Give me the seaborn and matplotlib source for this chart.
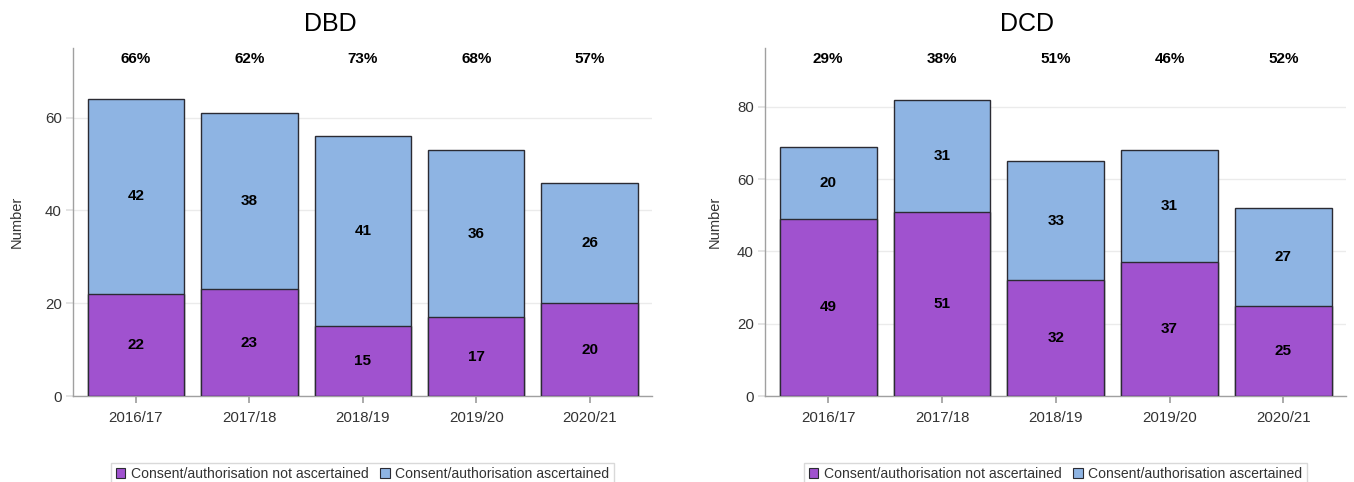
import matplotlib
matplotlib.use("Agg")
import matplotlib.pyplot as plt
from matplotlib.patches import Patch
import numpy as np
import pandas as pd
import seaborn as sns

# Financial years shown on both panels
years = ["2016/17", "2017/18", "2018/19", "2019/20", "2020/21"]

# DBD donors
dbd_not_ascertained = [22, 23, 15, 17, 20]
dbd_ascertained = [42, 38, 41, 36, 26]
dbd_pct = ["66%", "62%", "73%", "68%", "57%"]

# DCD donors
dcd_not_ascertained = [49, 51, 32, 37, 25]
dcd_ascertained = [20, 31, 33, 31, 27]
dcd_pct = ["29%", "38%", "51%", "46%", "52%"]

labels = ["Consent/authorisation not ascertained", "Consent/authorisation ascertained"]
PURPLE = "#A052CF"
BLUE = "#8EB4E3"
EDGE = "#2B2B33"
GRID = "#EBEBEB"
AXIS = "#A0A0A0"
TEXT = "#333333"

sns.set_theme(style="white")
plt.rcParams["font.family"] = ["Liberation Sans", "DejaVu Sans"]

fig = plt.figure(figsize=(13.54, 4.82), dpi=100)
W, H = 1354, 482
ax_l = fig.add_axes([73 / W, 1 - 396 / H, (652 - 73) / W, (396 - 48) / H])
ax_r = fig.add_axes([765 / W, 1 - 396 / H, (1346 - 765) / W, (396 - 48) / H])


def panel(ax, title, title_x, low, high, pct, ymax, yticks, ylabelpad):
    df = pd.DataFrame({
        "year": years,
        "low": low,
        "high": high,
    })
    df["total"] = df["low"] + df["high"]
    ax.set_axisbelow(True)
    for t in yticks:
        ax.axhline(t, color=GRID, lw=1, zorder=0)
    sns.barplot(data=df, x="year", y="total", color=BLUE, saturation=1,
                width=0.85, edgecolor=EDGE, linewidth=1, ax=ax, zorder=2)
    sns.barplot(data=df, x="year", y="low", color=PURPLE, saturation=1,
                width=0.85, edgecolor=EDGE, linewidth=1, ax=ax, zorder=3)
    for i, row in df.iterrows():
        ax.text(i, row["low"] / 2, f"{row['low']}", ha="center", va="center",
                fontsize=11, fontweight="bold", color="black", zorder=5)
        ax.text(i, row["low"] + row["high"] / 2, f"{row['high']}", ha="center",
                va="center", fontsize=11, fontweight="bold", color="black", zorder=5)
        ax.text(i, 0.968, pct[i], transform=ax.get_xaxis_transform(),
                ha="center", va="center", fontsize=11, fontweight="bold",
                color="black")
    ax.set_xlim(-0.555, 4.55)
    ax.set_ylim(0, ymax)
    ax.set_yticks(yticks)
    fig.text(title_x / W, 1 - 24 / H, title, fontsize=18, color="black",
             ha="center", va="center")
    ax.set_xlabel("")
    ax.set_ylabel("Number", fontsize=10.5, color=TEXT, labelpad=ylabelpad)
    for s in ["top", "right"]:
        ax.spines[s].set_visible(False)
    for s in ["left", "bottom"]:
        ax.spines[s].set_color(AXIS)
        ax.spines[s].set_linewidth(1)
    ax.tick_params(axis="x", length=5, color=AXIS, labelsize=10.8,
                   labelcolor=TEXT, pad=6, bottom=True)
    ax.tick_params(axis="y", length=5, color="#E0E0E0", labelsize=10.8,
                   labelcolor=TEXT, pad=3, left=True)
    handles = [Patch(facecolor=PURPLE, edgecolor=EDGE, linewidth=0.8),
               Patch(facecolor=BLUE, edgecolor=EDGE, linewidth=0.8)]
    leg = ax.legend(handles, labels, loc="upper center",
                    bbox_to_anchor=(0.5, -0.192), ncol=2, frameon=True,
                    fancybox=False, fontsize=10.1, handlelength=0.7,
                    handleheight=0.7, handletextpad=0.4, columnspacing=0.8,
                    borderpad=0.3, borderaxespad=0)
    leg.get_frame().set_edgecolor("#D0D0D0")
    leg.get_frame().set_linewidth(1)
    for t in leg.get_texts():
        t.set_color(TEXT)


panel(ax_l, "DBD", 330, dbd_not_ascertained, dbd_ascertained, dbd_pct, 75,
      [0, 20, 40, 60], 15)
panel(ax_r, "DCD", 1027, dcd_not_ascertained, dcd_ascertained, dcd_pct, 96.3,
      [0, 20, 40, 60, 80], 11)

fig.savefig("out.png", dpi=100, facecolor="white")
